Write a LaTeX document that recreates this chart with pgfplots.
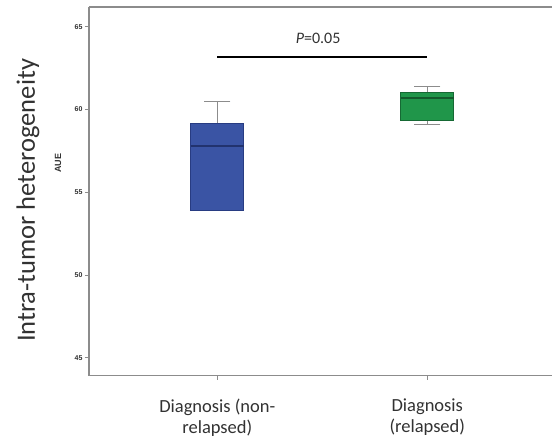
\documentclass[border=0pt]{standalone}
\usepackage{pgfplots}
\pgfplotsset{compat=1.18}
\usepgfplotslibrary{statistics}
\usepackage{fontspec}
\setmainfont{Carlito}
\newfontfamily\arialf{Liberation Sans}
\definecolor{bluefill}{RGB}{58,84,164}
\definecolor{blueedge}{RGB}{40,60,130}
\definecolor{greenfill}{RGB}{32,150,74}
\definecolor{greenedge}{RGB}{22,105,52}
\definecolor{axgray}{RGB}{140,140,140}
\definecolor{txtgray}{RGB}{50,50,50}
\begin{document}
\begin{tikzpicture}
\begin{axis}[
  scale only axis,
  width=463pt, height=368.6pt,
  xmin=0.389, xmax=2.594,
  ymin=43.92, ymax=66.19,
  axis x line*=box,
  axis y line*=left,
  axis line style={axgray, line width=1.3pt},
  ytick={45,50,55,60,65},
  xtick={1,2},
  xticklabels={{Diagnosis (non-\\relapsed)},{Diagnosis\\(relapsed)}},
  xticklabel style={align=center, font=\fontsize{18.5}{21}\selectfont, text=txtgray, yshift=-15.5pt},
  yticklabel style={font=\arialf\bfseries\fontsize{7}{8}\selectfont, text=txtgray, xshift=1pt},
  /pgf/number format/assume math mode=true,
  tick style={axgray, line width=0.8pt},
  tickpos=left,
  ytick align=outside,
  xtick align=outside,
  major tick length=4pt,
  clip=false,
  boxplot/draw direction=y,
  boxplot/box extend=0.253,
  boxplot/whisker extend=0.125,
  boxplot/every whisker/.style={draw=axgray, line width=1.2pt},
]
\addplot+[boxplot prepared={draw position=1, lower whisker=53.9, lower quartile=53.9, median=57.78, upper quartile=59.14, upper whisker=60.48},
  fill=bluefill, draw=blueedge, line width=0.8pt, mark=none,
  boxplot/every median/.style={draw=blueedge!85!black, line width=1.4pt}] coordinates {};
\addplot+[boxplot prepared={draw position=2, lower whisker=59.07, lower quartile=59.33, median=60.7, upper quartile=61.0, upper whisker=61.41},
  fill=greenfill, draw=greenedge, line width=0.8pt, mark=none,
  boxplot/every median/.style={draw=greenedge!85!black, line width=1.4pt}] coordinates {};
\addplot[black, line width=2.6pt, mark=none] coordinates {(1.0,63.17) (2.0,63.17)};
\node[font=\fontsize{16}{18}\selectfont, text=txtgray] at (axis cs:1.48,64.3) {\textit{P}=0.05};
\node[rotate=90, font=\fontsize{26.5}{30}\selectfont, text=txtgray] at ([xshift=-61pt]axis cs:0.389,54.5) {Intra-tumor heterogeneity};
\node[rotate=90, font=\arialf\bfseries\fontsize{9}{10}\selectfont, text=txtgray] at ([xshift=-31pt]axis cs:0.389,56.74) {AUE};
\coordinate (sw) at (rel axis cs:0,0);
\coordinate (ne) at (rel axis cs:1,1);
\end{axis}
\pgfresetboundingbox
\path ([shift={(-89pt,-68.4pt)}]sw) rectangle ([yshift=7pt]ne);
\end{tikzpicture}
\end{document}
